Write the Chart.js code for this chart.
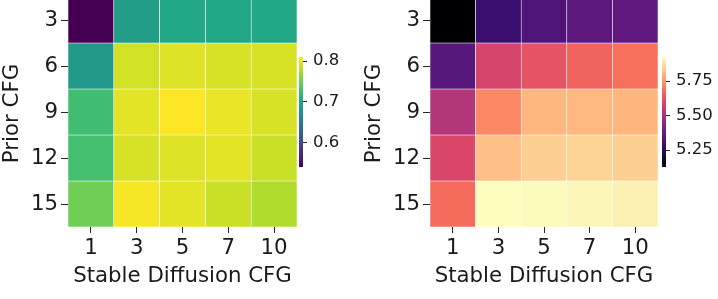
<!DOCTYPE html>
<html>
<head>
<meta charset="utf-8">
<script src="https://cdn.jsdelivr.net/npm/chart.js@4.4.0/dist/chart.umd.min.js"></script>
<style>
    html, body { margin: 0; padding: 0; background: #ffffff; }
    body { width: 718px; height: 299px; position: relative; overflow: hidden; }
    canvas { position: absolute; }
</style>
</head>
<body>
<canvas id="heat-left" width="300" height="319" style="left:0px; top:-20px;"></canvas>
<canvas id="bar-left" width="60" height="150" style="left:299px; top:37px;"></canvas>
<canvas id="heat-right" width="299" height="319" style="left:362px; top:-20px;"></canvas>
<canvas id="bar-right" width="60" height="150" style="left:662px; top:37px;"></canvas>
<script>
// ==================== DATA ====================

const sdCfg = ['1', '3', '5', '7', '10'];
const priorCfg = ['3', '6', '9', '12', '15'];

// left panel (viridis), one array per Prior CFG row
const leftRow3 = [0.541, 0.690, 0.702, 0.702, 0.702];
const leftRow6 = [0.684, 0.791, 0.797, 0.794, 0.794];
const leftRow9 = [0.727, 0.799, 0.810, 0.802, 0.794];
const leftRow12 = [0.729, 0.794, 0.797, 0.799, 0.788];
const leftRow15 = [0.751, 0.807, 0.799, 0.788, 0.778];
const leftTicks = [0.6, 0.7, 0.8];

// right panel (magma)
const rightRow3 = [5.127, 5.286, 5.326, 5.350, 5.358];
const rightRow6 = [5.342, 5.589, 5.629, 5.661, 5.685];
const rightRow9 = [5.518, 5.725, 5.804, 5.806, 5.802];
const rightRow12 = [5.597, 5.820, 5.844, 5.852, 5.844];
const rightRow15 = [5.677, 5.924, 5.921, 5.912, 5.902];
const rightTicks = [5.25, 5.5, 5.75];

// ==================== COLORMAPS ====================

const viridisStops = ['#440154', '#482475', '#414487', '#355f8d', '#2a788e', '#21918c',
    '#22a884', '#44bf70', '#7ad151', '#bddf26', '#fde725'];
const magmaStops = ['#000004', '#140e36', '#3b0f70', '#641a80', '#8c2981', '#b73779',
    '#de4968', '#f7705c', '#fe9f6d', '#fecf92', '#fcfdbf'];

function hexToRgb(h) {
    return [parseInt(h.slice(1, 3), 16), parseInt(h.slice(3, 5), 16), parseInt(h.slice(5, 7), 16)];
}

function sampleMap(stops, t) {
    t = Math.max(0, Math.min(1, t));
    const pos = t * (stops.length - 1);
    const i = Math.min(Math.floor(pos), stops.length - 2);
    const f = pos - i;
    const a = hexToRgb(stops[i]);
    const b = hexToRgb(stops[i + 1]);
    const c = a.map((v, k) => Math.round(v + (b[k] - v) * f));
    return `rgb(${c[0]}, ${c[1]}, ${c[2]})`;
}

Chart.defaults.font.family = "'DejaVu Sans', sans-serif";
Chart.defaults.color = '#1a1a1a';

const tickColor = '#262626';
const axisFont = 21.3;

// ==================== HEATMAP ====================

function drawHeatmap(canvasId, rows, stops) {
    const all = rows.flat();
    const vmin = Math.min(...all);
    const vmax = Math.max(...all);

    const datasets = rows.map((row, i) => ({
        data: row.map(() => [i, i + 1]),
        backgroundColor: row.map(v => sampleMap(stops, (v - vmin) / (vmax - vmin))),
        borderColor: 'rgba(255, 255, 255, 0.85)',
        borderWidth: 0.6,
        borderSkipped: false,
        grouped: false,
        barPercentage: 1,
        categoryPercentage: 1
    }));

    new Chart(document.getElementById(canvasId), {
        type: 'bar',
        data: { labels: sdCfg, datasets },
        options: {
            responsive: false,
            animation: false,
            devicePixelRatio: 1,
            layout: { padding: { top: 20, right: 3, left: 0, bottom: 0 } },
            plugins: { legend: { display: false }, tooltip: { enabled: false } },
            scales: {
                x: {
                    type: 'category',
                    afterFit: scale => { scale.height = 72; },
                    grid: {
                        offset: false,
                        drawOnChartArea: false,
                        drawTicks: true,
                        tickLength: 6,
                        color: tickColor
                    },
                    border: { display: false },
                    ticks: { font: { size: axisFont }, padding: 3, color: '#1a1a1a', maxRotation: 0 },
                    title: {
                        display: true,
                        text: 'Stable Diffusion CFG',
                        font: { size: axisFont },
                        color: '#1a1a1a',
                        padding: { top: 0, bottom: 10 }
                    }
                },
                y: {
                    type: 'linear',
                    reverse: true,
                    min: 0.065,
                    max: 5,
                    afterFit: scale => { scale.width = 68; },
                    afterBuildTicks: scale => {
                        scale.ticks = priorCfg.map((_, i) => ({ value: i + 0.5 }));
                    },
                    grid: {
                        drawOnChartArea: false,
                        drawTicks: true,
                        tickLength: 7,
                        color: tickColor
                    },
                    border: { display: false },
                    ticks: {
                        font: { size: axisFont },
                        padding: 3,
                        color: '#1a1a1a',
                        callback: (v, i) => priorCfg[i]
                    },
                    title: {
                        display: true,
                        text: 'Prior CFG',
                        font: { size: axisFont },
                        color: '#1a1a1a',
                        padding: { top: 0, bottom: 0 }
                    }
                }
            }
        }
    });
    return [vmin, vmax];
}

// ==================== COLORBAR ====================

function drawColorbar(canvasId, range, stops, tickValues, decimals) {
    const [vmin, vmax] = range;
    new Chart(document.getElementById(canvasId), {
        type: 'bar',
        data: {
            labels: [''],
            datasets: [{
                data: [[vmin, vmax]],
                backgroundColor: ctx => {
                    const area = ctx.chart.chartArea;
                    if (!area) return null;
                    const g = ctx.chart.ctx.createLinearGradient(0, area.bottom, 0, area.top);
                    for (let k = 0; k <= 40; k++) {
                        g.addColorStop(k / 40, sampleMap(stops, k / 40));
                    }
                    return g;
                },
                borderWidth: 0,
                barPercentage: 1,
                categoryPercentage: 1
            }]
        },
        options: {
            responsive: false,
            animation: false,
            devicePixelRatio: 1,
            layout: { padding: { top: 20, bottom: 20, left: 0, right: 0 } },
            plugins: { legend: { display: false }, tooltip: { enabled: false } },
            scales: {
                x: { display: false },
                y: {
                    position: 'right',
                    min: vmin,
                    max: vmax,
                    afterFit: scale => { scale.width = 56; },
                    afterBuildTicks: scale => {
                        scale.ticks = tickValues.map(v => ({ value: v }));
                    },
                    grid: {
                        drawOnChartArea: false,
                        drawTicks: true,
                        tickLength: 4,
                        color: tickColor
                    },
                    border: { display: false },
                    ticks: {
                        font: { size: 16.5 },
                        padding: 6,
                        color: '#1a1a1a',
                        callback: v => v.toFixed(decimals)
                    }
                }
            }
        }
    });
}

const leftRows = [leftRow3, leftRow6, leftRow9, leftRow12, leftRow15];
const rightRows = [rightRow3, rightRow6, rightRow9, rightRow12, rightRow15];

const leftRange = drawHeatmap('heat-left', leftRows, viridisStops);
drawColorbar('bar-left', leftRange, viridisStops, leftTicks, 1);

const rightRange = drawHeatmap('heat-right', rightRows, magmaStops);
drawColorbar('bar-right', rightRange, magmaStops, rightTicks, 2);
</script>
</body>
</html>
